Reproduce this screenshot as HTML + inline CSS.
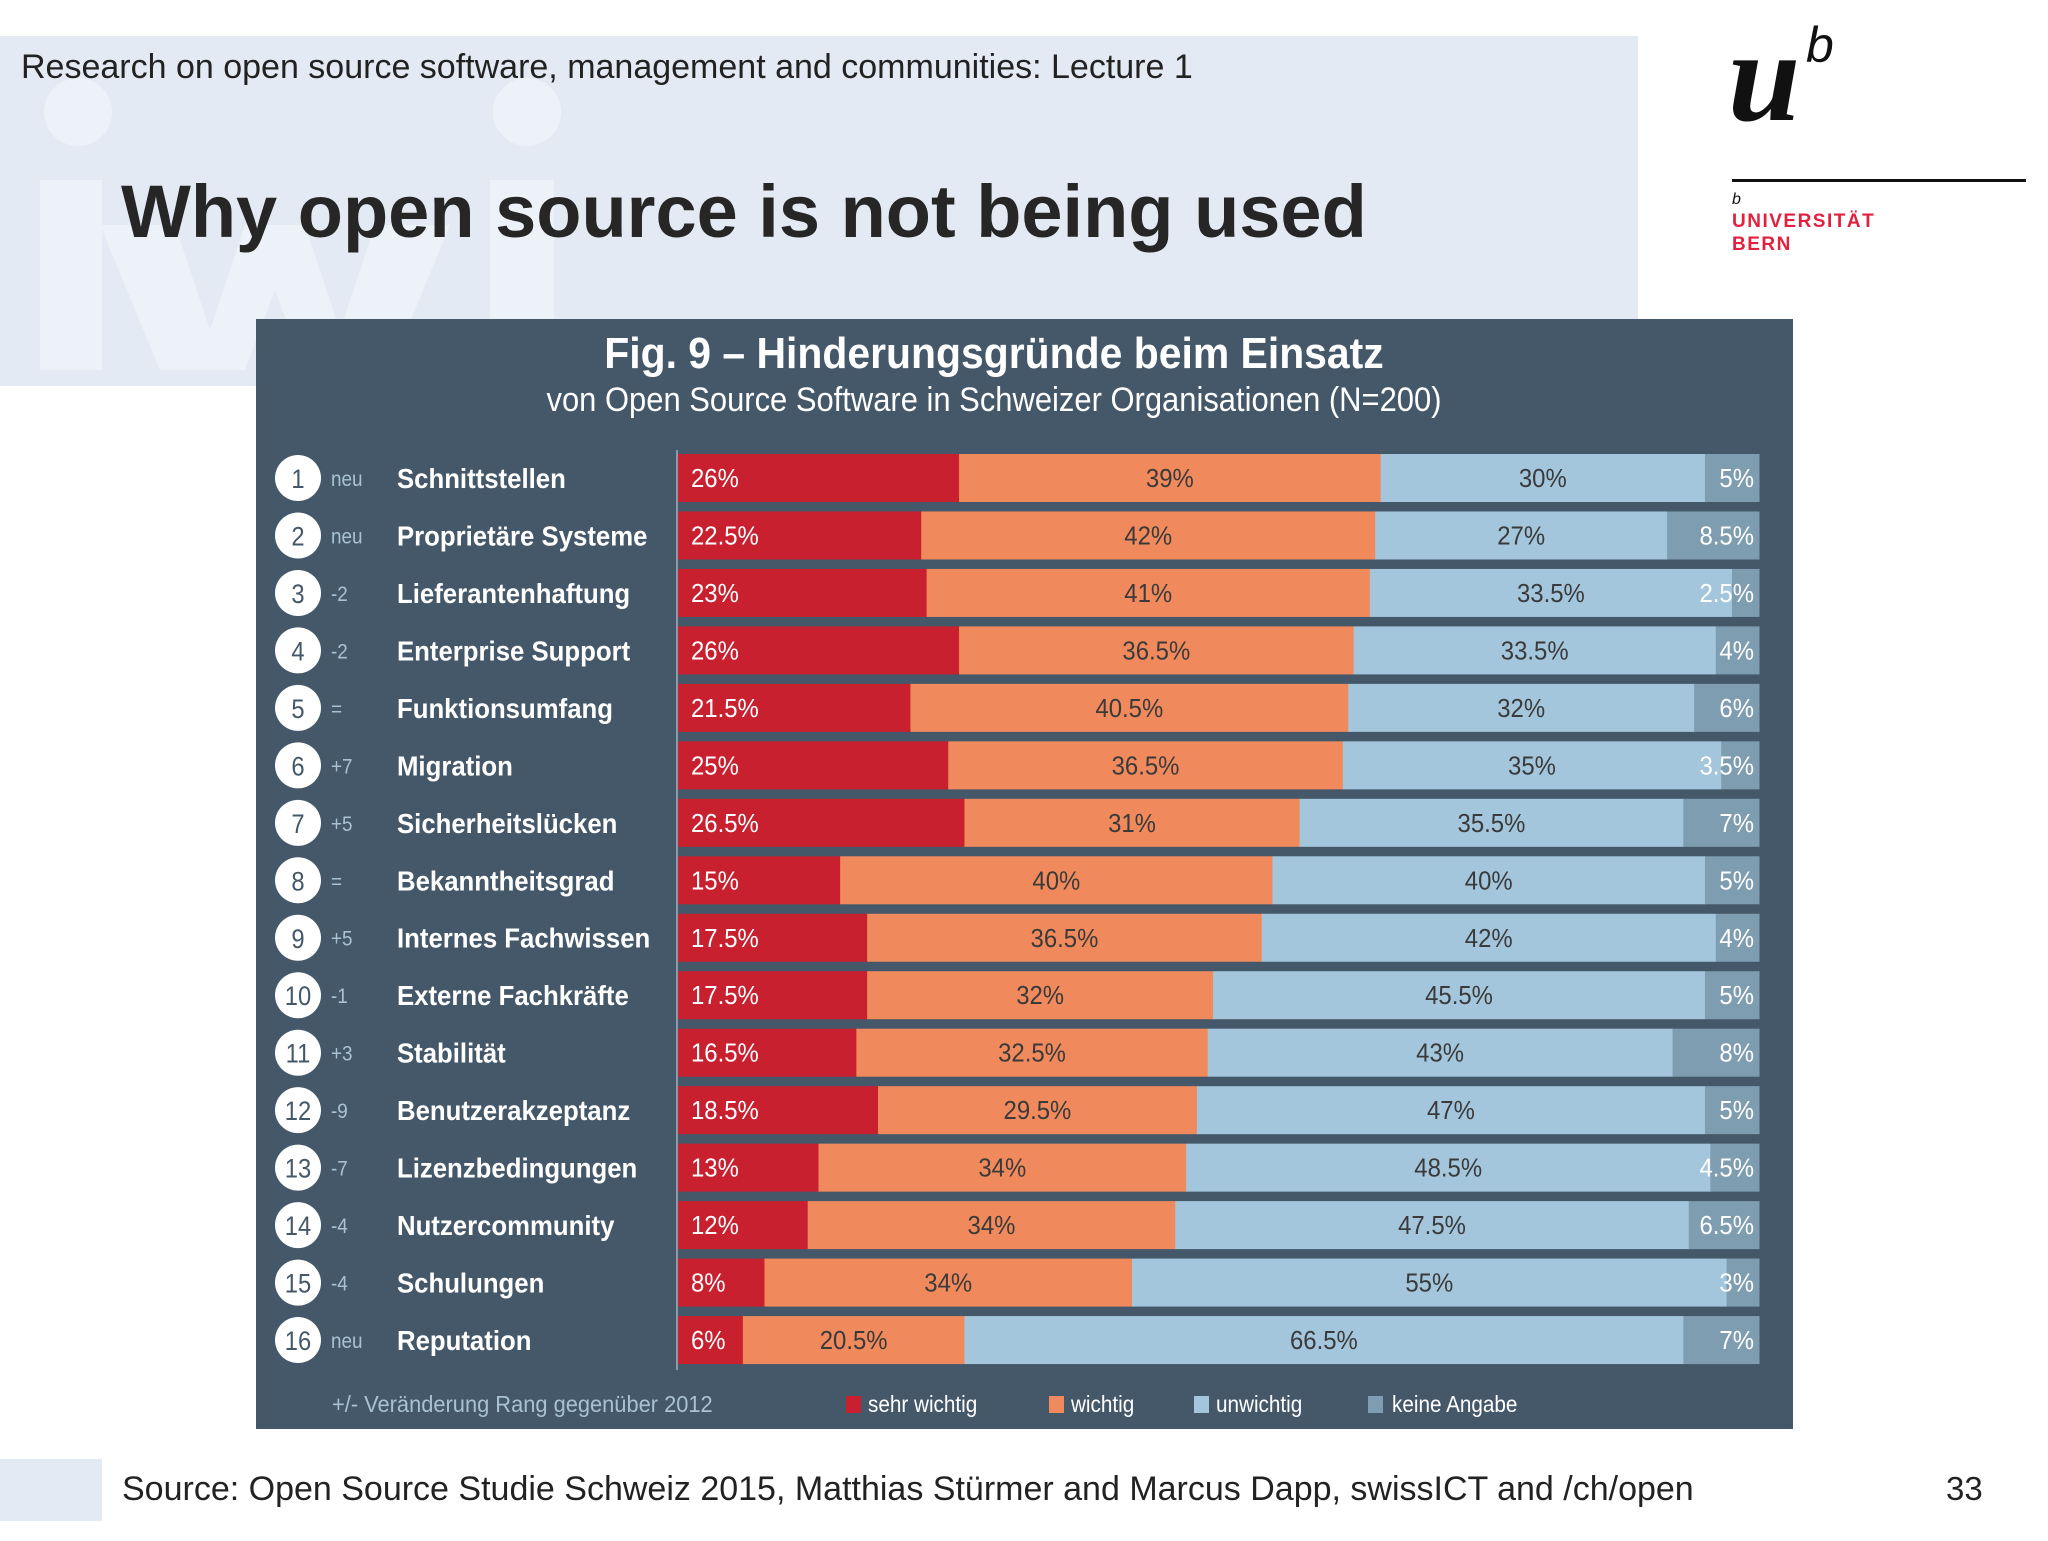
<!DOCTYPE html>
<html><head><meta charset="utf-8">
<style>
html,body{margin:0;padding:0;background:#fff;}
body{width:2048px;height:1536px;position:relative;overflow:hidden;font-family:"Liberation Sans",sans-serif;}
</style></head>
<body>
<svg width="2048" height="1536" viewBox="0 0 2048 1536" xmlns="http://www.w3.org/2000/svg">
  <rect x="0" y="36" width="1638" height="283" fill="#e3eaf3"/>
  <rect x="0" y="319" width="256" height="67" fill="#e3eaf3"/>
  <g fill="#edf2f8">
    <circle cx="78" cy="112" r="34"/><rect x="40" y="180" width="62" height="190"/>
    <polygon points="100,225 175,225 210,330 245,225 305,225 340,330 375,225 450,225 390,370 305,370 275,290 245,370 160,370"/>
    <circle cx="527" cy="112" r="34"/><rect x="490" y="180" width="64" height="139"/>
  </g>
  <text x="21" y="78" font-size="34" fill="#222">Research on open source software, management and communities: Lecture 1</text>
  <text x="121" y="237" font-size="74" font-weight="bold" fill="#262626">Why open source is not being used</text>
  <g>
    <text x="1728" y="120" font-family="Liberation Serif,serif" font-size="130" font-style="italic" font-weight="bold" fill="#111">u</text>
    <text x="1806" y="62" font-size="50" font-style="italic" fill="#111">b</text>
    <rect x="1732" y="179" width="294" height="3" fill="#111"/>
    <text x="1732" y="204" font-size="16" font-style="italic" fill="#111">b</text>
    <text x="1732" y="227" font-size="19" font-weight="bold" fill="#e0213f" letter-spacing="1.5">UNIVERSITÄT</text>
    <text x="1732" y="250" font-size="19" font-weight="bold" fill="#e0213f" letter-spacing="1.5">BERN</text>
  </g>
  <rect x="0" y="1459" width="102" height="62" fill="#e3eaf3"/>
  <text x="122" y="1500" font-size="34" fill="#222">Source: Open Source Studie Schweiz 2015, Matthias Stürmer and Marcus Dapp, swissICT and /ch/open</text>
  <text x="1946" y="1500" font-size="33" fill="#222">33</text>

  <rect x="256" y="319" width="1537" height="1110" fill="#44586a"/>
  <text x="994" y="368" text-anchor="middle" transform="translate(994,0) scale(0.93,1) translate(-994,0)" font-size="44" font-weight="bold" fill="#fff">Fig. 9 – Hinderungsgründe beim Einsatz</text>
  <text x="994" y="411" text-anchor="middle" transform="translate(994,0) scale(0.91,1) translate(-994,0)" font-size="34" fill="#fff">von Open Source Software in Schweizer Organisationen (N=200)</text>
  <line x1="677" y1="450" x2="677" y2="1370" stroke="#8a9aa8" stroke-width="2"/>
  <g id="bars"></g>
  <g font-size="23">
    <text x="332" y="1412" transform="translate(332,0) scale(0.95,1) translate(-332,0)" fill="#a9c2d3">+/-  Veränderung Rang gegenüber 2012</text>
    <rect x="846" y="1396" width="15" height="17" fill="#c8202f"/><text x="868" y="1412" transform="translate(868,0) scale(0.9,1) translate(-868,0)" fill="#fff">sehr wichtig</text>
    <rect x="1049" y="1396" width="15" height="17" fill="#f08a5d"/><text x="1071" y="1412" transform="translate(1071,0) scale(0.9,1) translate(-1071,0)" fill="#fff">wichtig</text>
    <rect x="1194" y="1396" width="15" height="17" fill="#a3c6dc"/><text x="1216" y="1412" transform="translate(1216,0) scale(0.9,1) translate(-1216,0)" fill="#fff">unwichtig</text>
    <rect x="1368" y="1396" width="15" height="17" fill="#7e9db1"/><text x="1392" y="1412" transform="translate(1392,0) scale(0.9,1) translate(-1392,0)" fill="#fff">keine Angabe</text>
  </g>
</svg>
<script>
const categories = ["Schnittstellen","Proprietäre Systeme","Lieferantenhaftung","Enterprise Support","Funktionsumfang","Migration","Sicherheitslücken","Bekanntheitsgrad","Internes Fachwissen","Externe Fachkräfte","Stabilität","Benutzerakzeptanz","Lizenzbedingungen","Nutzercommunity","Schulungen","Reputation"];
const rankChange = ["neu","neu","-2","-2","=","+7","+5","=","+5","-1","+3","-9","-7","-4","-4","neu"];
const sehrWichtig = [26,22.5,23,26,21.5,25,26.5,15,17.5,17.5,16.5,18.5,13,12,8,6];
const wichtig = [39,42,41,36.5,40.5,36.5,31,40,36.5,32,32.5,29.5,34,34,34,20.5];
const unwichtig = [30,27,33.5,33.5,32,35,35.5,40,42,45.5,43,47,48.5,47.5,55,66.5];
const keineAngabe = [5,8.5,2.5,4,6,3.5,7,5,4,5,8,5,4.5,6.5,3,7];

const NS = "http://www.w3.org/2000/svg";
const x0 = 678, plotW = 1081, y0 = 454, pitch = 57.47, barH = 48;
const xScale = v => v / 100 * plotW;
const yScale = i => y0 + i * pitch;
const colors = ["#c8202f","#f08a5d","#a3c6dc","#7e9db1"];
const txtColors = ["#fff","#3a3a3a","#3a3a3a","#fff"];
const g = document.getElementById("bars");
function mk(tag, attrs, text){
  const e = document.createElementNS(NS, tag);
  for (const k in attrs) e.setAttribute(k, attrs[k]);
  if (text !== undefined) e.textContent = text;
  g.appendChild(e);
  return e;
}
function cond(x, s){ return "translate(" + x + ",0) scale(" + s + ",1) translate(" + (-x) + ",0)"; }
const segNames = ["sehr-wichtig","wichtig","unwichtig","keine-angabe"];
categories.forEach((cat, i) => {
  const y = yScale(i), cy = y + barH / 2;
  const c = mk("circle", {cx: 298, cy: cy, r: 23, fill: "#fff"});
  
  
  const rn = mk("text", {x: 298, y: cy + 10, "text-anchor": "middle", transform: cond(298, 0.88), "font-size": 27, fill: "#44586a"}, String(i + 1));
  
  
  const ch = mk("text", {x: 331, y: cy + 8, transform: cond(331, 0.9), "font-size": 21, fill: "#a9c2d3"}, rankChange[i]);
  
  
  const lb = mk("text", {x: 397, y: cy + 10, transform: cond(397, 0.92), "font-size": 28, "font-weight": "bold", fill: "#fff"}, cat);
  
  
  const vals = [sehrWichtig[i], wichtig[i], unwichtig[i], keineAngabe[i]];
  let acc = 0;
  vals.forEach((v, s) => {
    const xs = x0 + xScale(acc), w = xScale(v);
    const r = mk("rect", {x: xs, y: y, width: w + 0.5, height: barH, fill: colors[s]});
    
    
    let tx, anchor;
    if (s === 0) { tx = xs + 13; anchor = "start"; }
    else if (s === 3) { tx = x0 + plotW - 5; anchor = "end"; }
    else { tx = xs + w / 2; anchor = "middle"; }
    const t = mk("text", {x: tx, y: cy + 9, "text-anchor": anchor, transform: cond(tx, 0.92), "font-size": 26, fill: txtColors[s]}, String(v) + "%");
    
    
    acc += v;
  });
});
</script>
</body></html>
